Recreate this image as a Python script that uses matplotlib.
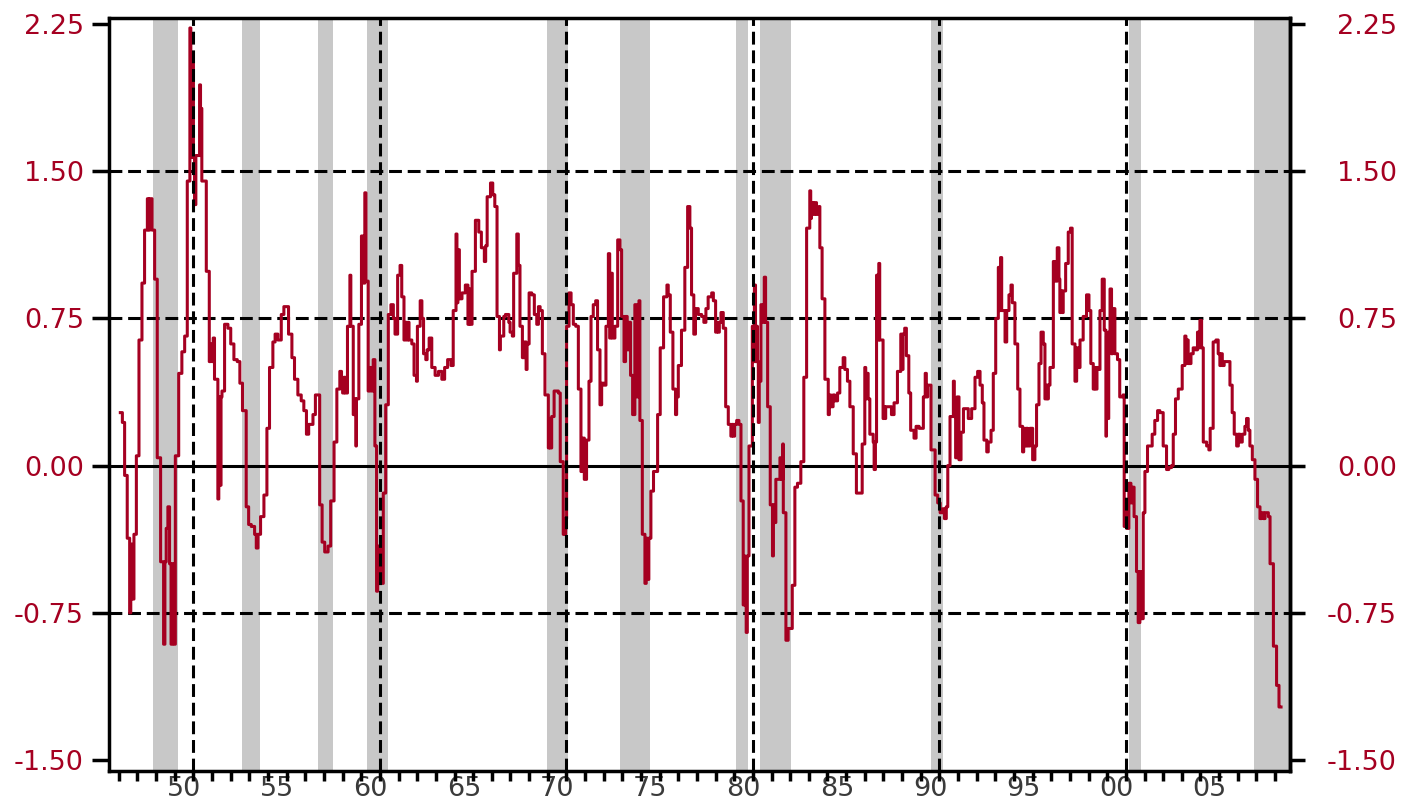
import matplotlib.pyplot as plt

# monthly readings (decimal year, value), drawn as steps
dates = [
    1947.08, 1947.19, 1947.31, 1947.45, 1947.58, 1947.64, 1947.70, 1947.81, 1947.94, 1948.08,
    1948.24, 1948.38, 1948.53, 1948.60, 1948.66, 1948.78, 1948.92, 1949.06, 1949.24, 1949.40,
    1949.47, 1949.54, 1949.63, 1949.72, 1949.80, 1949.87, 1949.95, 1950.03, 1950.21, 1950.38,
    1950.53, 1950.67, 1950.81, 1950.86, 1950.92, 1951.00, 1951.06, 1951.13, 1951.33, 1951.38,
    1951.42, 1951.45, 1951.69, 1951.85, 1951.92, 1951.99, 1952.06, 1952.13, 1952.31, 1952.36,
    1952.42, 1952.48, 1952.53, 1952.67, 1952.85, 1953.00, 1953.17, 1953.35, 1953.49, 1953.63,
    1953.83, 1953.96, 1954.10, 1954.28, 1954.37, 1954.46, 1954.60, 1954.78, 1954.94, 1955.08,
    1955.26, 1955.38, 1955.53, 1955.71, 1955.85, 1956.10, 1956.28, 1956.42, 1956.60, 1956.78,
    1956.92, 1957.06,
    1957.18, 1957.41, 1957.54, 1957.77, 1957.90, 1958.04, 1958.22, 1958.36, 1958.54, 1958.69,
    1958.85, 1958.94, 1959.00, 1959.08, 1959.14, 1959.26, 1959.39, 1959.44, 1959.57, 1959.65,
    1959.71, 1959.74, 1959.87, 1960.01, 1960.10, 1960.19, 1960.25, 1960.37, 1960.46, 1960.55,
    1960.64, 1960.73, 1960.82, 1960.88, 1960.94, 1961.00, 1961.06, 1961.18, 1961.31, 1961.45,
    1961.59, 1961.72, 1961.81, 1961.95, 1962.08, 1962.17, 1962.29, 1962.36, 1962.44, 1962.50,
    1962.56, 1962.71, 1962.83, 1962.96, 1963.01, 1963.16, 1963.25, 1963.34, 1963.46, 1963.53,
    1963.64, 1963.78, 1963.96, 1964.14, 1964.32, 1964.47, 1964.63, 1964.81, 1964.93, 1965.08,
    1965.13, 1965.18, 1965.26, 1965.40, 1965.58, 1965.72, 1965.78, 1965.83, 1965.94, 1966.12,
    1966.30, 1966.44, 1966.60, 1966.67, 1966.75, 1966.93, 1967.05, 1967.16, 1967.28, 1967.41,
    1967.46, 1967.64, 1967.73, 1967.91,
    1967.98, 1968.10, 1968.17, 1968.34, 1968.42, 1968.51, 1968.64, 1968.75, 1968.84, 1968.89,
    1969.00, 1969.14, 1969.28, 1969.41, 1969.50, 1969.59, 1969.71, 1969.85, 1970.03, 1970.08,
    1970.12, 1970.21, 1970.34, 1970.57, 1970.67, 1970.83, 1970.88, 1970.92, 1970.96, 1971.01,
    1971.14, 1971.25, 1971.37, 1971.50, 1971.64, 1971.78, 1971.87, 1971.96, 1972.08, 1972.21,
    1972.32, 1972.44, 1972.57, 1972.67, 1972.80, 1972.89, 1973.01, 1973.12, 1973.25, 1973.32,
    1973.39, 1973.46, 1973.60, 1973.75, 1973.87, 1973.96, 1974.09, 1974.17, 1974.26, 1974.35,
    1974.44, 1974.55, 1974.67, 1974.78, 1974.89, 1974.94, 1975.07, 1975.21, 1975.28, 1975.34,
    1975.42, 1975.53, 1975.67, 1975.89, 1976.03, 1976.21, 1976.39, 1976.46, 1976.57, 1976.71,
    1976.85, 1976.91, 1977.00, 1977.17, 1977.35, 1977.50, 1977.62, 1977.71, 1977.83, 1977.92,
    1978.07, 1978.25, 1978.37, 1978.48, 1978.60,
    1978.79, 1978.88, 1979.00, 1979.07, 1979.14, 1979.20, 1979.29, 1979.41, 1979.54, 1979.68,
    1979.82, 1979.88, 1979.95, 1980.02, 1980.13, 1980.25, 1980.36, 1980.48, 1980.52, 1980.57,
    1980.64, 1980.70, 1980.79, 1980.97, 1981.03, 1981.08, 1981.14, 1981.20, 1981.24, 1981.29,
    1981.34, 1981.43, 1981.52, 1981.61, 1981.68, 1981.79, 1981.93, 1982.05, 1982.10, 1982.16,
    1982.23, 1982.45, 1982.54, 1982.60, 1982.63, 1982.77, 1982.89, 1983.11, 1983.25, 1983.39,
    1983.57, 1983.73, 1983.88, 1984.05, 1984.10, 1984.14, 1984.23, 1984.32, 1984.41, 1984.54,
    1984.59, 1984.71, 1984.86, 1985.04, 1985.10, 1985.18, 1985.30, 1985.39, 1985.54, 1985.66,
    1985.84, 1985.93, 1986.07, 1986.20, 1986.38, 1986.55, 1986.86, 1987.00, 1987.05, 1987.09,
    1987.18, 1987.27, 1987.45, 1987.50, 1987.57, 1987.63, 1987.70, 1987.75, 1987.80, 1987.98,
    1988.02, 1988.07, 1988.12, 1988.43, 1988.57, 1988.75, 1988.93, 1989.00, 1989.05, 1989.14,
    1989.23, 1989.36,
    1989.46, 1989.64, 1989.75, 1989.91, 1990.14, 1990.24, 1990.30, 1990.37, 1990.55, 1990.77,
    1990.91, 1991.04, 1991.18, 1991.27, 1991.37, 1991.45, 1991.57, 1991.75, 1991.80, 1991.87,
    1991.95, 1992.05, 1992.16, 1992.29, 1992.55, 1992.73, 1992.91, 1993.05, 1993.18, 1993.30,
    1993.39, 1993.54, 1993.62, 1993.77, 1993.89, 1994.02, 1994.16, 1994.22, 1994.28, 1994.34,
    1994.52, 1994.61, 1994.73, 1994.84, 1994.91, 1995.05, 1995.20, 1995.32, 1995.46, 1995.52,
    1995.59, 1995.66, 1995.73, 1995.86, 1996.00, 1996.12, 1996.21, 1996.34, 1996.45, 1996.57,
    1996.66, 1996.75, 1996.80, 1996.84, 1996.93, 1997.11, 1997.20, 1997.32, 1997.41, 1997.46,
    1997.52, 1997.58, 1997.64, 1997.77, 1997.91, 1998.03, 1998.12, 1998.27, 1998.36, 1998.45,
    1998.54, 1998.71, 1998.89, 1999.02, 1999.12, 1999.25, 1999.31, 1999.37, 1999.45, 1999.52,
    1999.61, 1999.73, 1999.84, 1999.93, 1999.96,
    2000.03, 2000.08, 2000.15, 2000.23, 2000.28, 2000.41, 2000.55, 2000.67, 2000.85, 2000.91,
    2000.98, 2001.05, 2001.16, 2001.27, 2001.34, 2001.44, 2001.57, 2001.66, 2001.75, 2001.84,
    2001.93, 2002.02, 2002.16, 2002.41, 2002.55, 2002.70, 2002.82, 2003.00, 2003.18, 2003.30,
    2003.45, 2003.54, 2003.66, 2003.81, 2004.02, 2004.16, 2004.22, 2004.28, 2004.34, 2004.49,
    2004.61, 2004.74, 2004.84, 2004.92, 2004.97, 2005.06, 2005.15, 2005.33, 2005.45, 2005.52,
    2005.68, 2005.83, 2005.95, 2006.04, 2006.10, 2006.17, 2006.27, 2006.58, 2006.70, 2006.81,
    2006.94, 2007.03, 2007.12, 2007.24, 2007.38, 2007.47, 2007.56, 2007.65, 2007.78, 2007.92,
    2008.06, 2008.19, 2008.28, 2008.37, 2008.46, 2008.64, 2008.73, 2008.91, 2009.08, 2009.21,
    2009.32,
]
values = [
    0.27, 0.22, -0.05, -0.37, -0.75, -0.40, -0.68, -0.35, 0.05, 0.64,
    0.93, 1.20, 1.36, 1.20, 1.36, 1.20, 0.95, 0.04, -0.49, -0.91,
    -0.49, -0.32, -0.21, -0.50, -0.91, -0.50, -0.91, 0.05, 0.47, 0.58,
    0.66, 1.45, 2.23, 1.57, 2.05, 1.57, 1.33, 1.58, 1.94, 1.58,
    1.82, 1.45, 0.99, 0.53, 0.62, 0.53, 0.65, 0.44, -0.17, 0.35,
    -0.10, 0.35, 0.38, 0.72, 0.70, 0.62, 0.54, 0.53, 0.42, 0.28,
    -0.21, -0.30, -0.31, -0.35, -0.42, -0.35, -0.26, -0.15, 0.19, 0.50,
    0.63, 0.67, 0.64, 0.77, 0.81, 0.67, 0.55, 0.44, 0.36, 0.33,
    0.28, 0.16,
    0.21, 0.26, 0.36, -0.20, -0.39, -0.44, -0.41, -0.18, 0.12, 0.39,
    0.48, 0.45, 0.37, 0.45, 0.37, 0.71, 0.97, 0.71, 0.26, 0.34,
    0.10, 0.34, 0.72, 1.17, 0.93, 1.39, 0.94, 0.38, 0.50, 0.38,
    0.54, 0.10, -0.64, -0.41, -0.60, -0.41, -0.60, -0.14, 0.31, 0.77,
    0.82, 0.75, 0.67, 0.97, 1.02, 0.86, 0.64, 0.73, 0.64, 0.73,
    0.64, 0.62, 0.46, 0.43, 0.71, 0.84, 0.75, 0.57, 0.54, 0.59,
    0.65, 0.50, 0.46, 0.48, 0.44, 0.50, 0.54, 0.51, 0.79, 1.18,
    0.83, 1.10, 0.85, 0.88, 0.92, 0.72, 0.90, 0.72, 0.99, 1.25,
    1.19, 1.11, 1.04, 1.12, 1.37, 1.44, 1.38, 1.32, 0.76, 0.59,
    0.66, 0.76, 0.77, 0.73,
    0.68, 0.66, 0.98, 1.18, 1.02, 0.71, 0.55, 0.63, 0.49, 0.62,
    0.88, 0.87, 0.77, 0.72, 0.81, 0.79, 0.57, 0.36, 0.09, 0.24,
    0.09, 0.25, 0.38, 0.37, 0.02, -0.35, -0.27, -0.35, -0.27, 0.71,
    0.88, 0.82, 0.72, 0.71, 0.39, -0.03, 0.14, -0.07, 0.13, 0.43,
    0.76, 0.82, 0.84, 0.59, 0.31, 0.42, 0.41, 0.71, 1.08, 0.65,
    0.98, 0.65, 0.71, 1.15, 1.10, 0.76, 0.53, 0.76, 0.59, 0.73,
    0.46, 0.26, 0.82, 0.35, 0.84, 0.23, -0.35, -0.60, -0.37, -0.58,
    -0.37, -0.13, -0.03, 0.26, 0.60, 0.86, 0.92, 0.87, 0.68, 0.39,
    0.26, 0.35, 0.51, 0.69, 1.01, 1.32, 1.21, 0.87, 0.67, 0.80,
    0.77, 0.76, 0.73, 0.80, 0.86,
    0.88, 0.84, 0.68, 0.73, 0.68, 0.73, 0.78, 0.70, 0.30, 0.21,
    0.15, 0.21, 0.15, 0.21, 0.23, 0.21, -0.18, -0.71, -0.46, -0.71,
    -0.85, -0.46, 0.10, 0.71, 0.53, 0.92, 0.53, 0.71, 0.53, 0.22,
    0.43, 0.82, 0.73, 0.96, 0.73, 0.30, -0.20, -0.46, -0.20, -0.29,
    -0.07, 0.04, -0.07, 0.11, -0.24, -0.89, -0.83, -0.61, -0.11, -0.09,
    0.02, 0.45, 1.21, 1.40, 1.26, 1.34, 1.28, 1.34, 1.28, 1.32,
    1.11, 0.85, 0.44, 0.26, 0.36, 0.30, 0.36, 0.33, 0.37, 0.50,
    0.55, 0.49, 0.43, 0.30, 0.06, -0.14, 0.11, 0.50, 0.34, 0.47,
    0.34, 0.16, 0.12, -0.02, 0.12, 0.97, 0.64, 1.03, 0.64, 0.24,
    0.30, 0.24, 0.30, 0.26, 0.32, 0.48, 0.67, 0.49, 0.67, 0.70,
    0.56, 0.37,
    0.18, 0.14, 0.20, 0.19, 0.35, 0.47, 0.35, 0.41, 0.08, -0.15,
    -0.19, -0.24, -0.22, -0.27, -0.21, 0.00, 0.25, 0.43, 0.25, 0.04,
    0.35, 0.03, 0.17, 0.29, 0.24, 0.29, 0.45, 0.48, 0.41, 0.32,
    0.13, 0.07, 0.12, 0.18, 0.47, 0.75, 1.01, 0.79, 1.06, 0.79,
    0.63, 0.79, 0.87, 0.92, 0.83, 0.62, 0.39, 0.20, 0.07, 0.19,
    0.10, 0.19, 0.10, 0.19, 0.03, 0.10, 0.31, 0.52, 0.68, 0.62,
    0.34, 0.41, 0.34, 0.41, 0.50, 1.04, 0.94, 1.11, 0.95, 0.78,
    0.89, 0.78, 0.89, 1.03, 1.19, 1.21, 0.62, 0.43, 0.60, 0.50,
    0.64, 0.76, 0.87, 0.79, 0.52, 0.39, 0.50, 0.39, 0.50, 0.49,
    0.79, 0.95, 0.69, 0.15, 0.66,
    0.24, 0.68, 0.90, 0.57, 0.80, 0.57, 0.54, 0.35, 0.36, -0.31,
    -0.19, -0.32, -0.09, -0.19, -0.11, -0.26, -0.54, -0.80, -0.54, -0.78,
    -0.24, -0.03, 0.10, 0.16, 0.23, 0.28, 0.27, 0.10, -0.02, -0.01,
    0.00, 0.16, 0.34, 0.39, 0.51, 0.66, 0.52, 0.64, 0.52, 0.57,
    0.60, 0.59, 0.68, 0.60, 0.74, 0.60, 0.12, 0.10, 0.08, 0.19,
    0.63, 0.64, 0.57, 0.51, 0.57, 0.51, 0.53, 0.41, 0.27, 0.16,
    0.10, 0.16, 0.12, 0.16, 0.20, 0.24, 0.18, 0.10, 0.03, -0.07,
    -0.21, -0.27, -0.24, -0.27, -0.24, -0.26, -0.50, -0.92, -1.12, -1.23,
    -1.23,
]

# recession periods (start, end)
recessions = [
    (1948.83, 1950.17), (1953.60, 1954.57), (1957.68, 1958.48), (1960.30, 1961.43),
    (1969.96, 1971.08), (1973.87, 1975.48), (1980.09, 1980.73), (1981.37, 1983.04),
    (1990.55, 1991.19), (2001.16, 2001.81), (2007.87, 2010.00),
]
decade_lines = [1951, 1961, 1971, 1981, 1991, 2001]
y_ticks = [-1.50, -0.75, 0.00, 0.75, 1.50, 2.25]
label_years = list(range(1950, 2006, 5))

RED = '#A50021'
plt.rcParams['font.family'] = ['DejaVu Sans']

fig = plt.figure(figsize=(14.04, 8.02), dpi=100)
ax = fig.add_axes([0.0776, 0.0387, 0.8412, 0.9389])

for s, e in recessions:
    ax.axvspan(s, e, color='#C8C8C8', lw=0, zorder=0)

for v in [-0.75, 0.75, 1.50]:
    ax.axhline(v, color='black', lw=2.2, dashes=(4.2, 1.9), zorder=1)
ax.axhline(0, color='black', lw=2.2, zorder=1)

ax.plot(dates, values, drawstyle='steps-post', color=RED, lw=2.2, zorder=3)

for x in decade_lines:
    ax.axvline(x, color='black', lw=2.2, dashes=(4.2, 1.9), zorder=4)

ax.set_xlim(1946.47, 2009.8)
ax.set_ylim(-1.556, 2.281)

for sp in ax.spines.values():
    sp.set_linewidth(2.5)

# y axis: labels on both sides
ax.set_yticks(y_ticks)
ax.set_yticklabels([f'{v:.2f}' for v in y_ticks])
ax.tick_params(axis='y', length=12, width=2.5, pad=6, labelsize=19.5,
               labelcolor=RED, direction='out')

ax2 = ax.twinx()
ax2.set_ylim(ax.get_ylim())
ax2.set_yticks(y_ticks)
ax2.set_yticklabels([f'{v:.2f}' for v in y_ticks], ha='right')
ax2.tick_params(axis='y', length=11, width=2.5, pad=66, labelsize=19.5,
                labelcolor=RED, direction='out')
ax2.spines['right'].set_linewidth(2.5)

# x axis: yearly tick marks, labels centred in the year
ax.set_xticks(range(1947, 2010), minor=True)
ax.set_xticks([y + 0.5 for y in label_years])
ax.set_xticklabels([f'{y % 100:02d}' for y in label_years])
ax.tick_params(axis='x', which='minor', length=7.5, width=2.5, direction='out')
ax.tick_params(axis='x', which='major', length=0, pad=3.5, labelsize=19.5,
               labelcolor='#3a3a3a')

fig.savefig('out.png', dpi=100)
